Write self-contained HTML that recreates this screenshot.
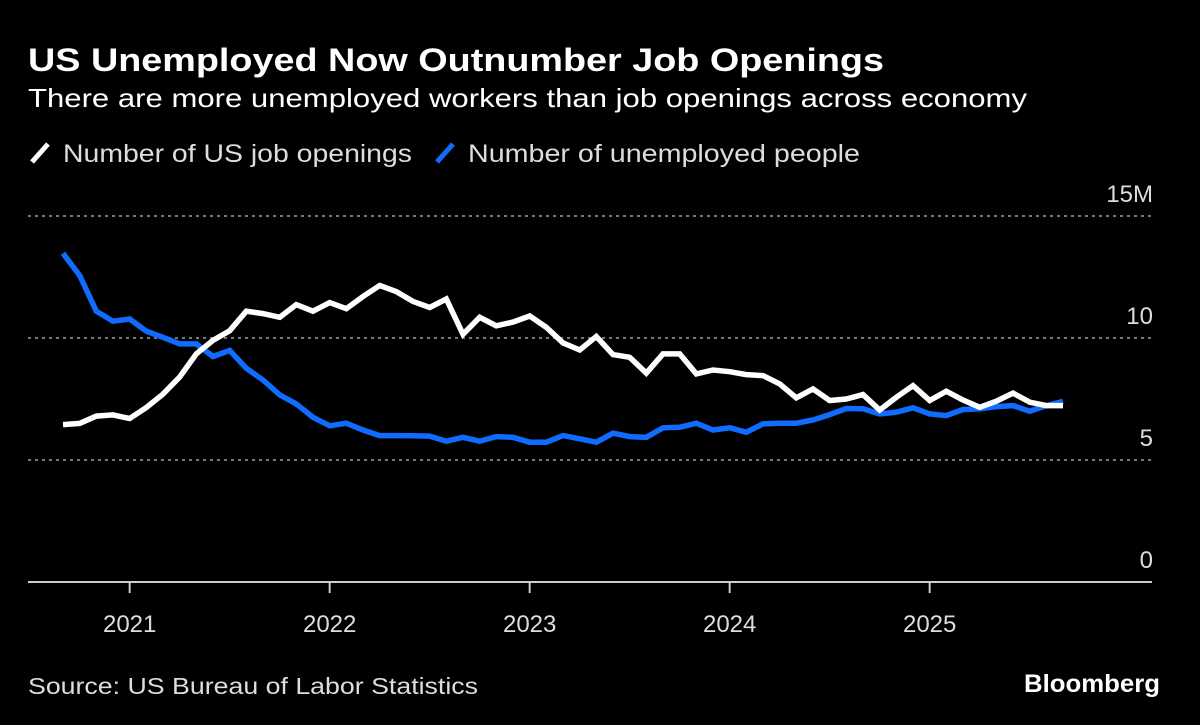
<!DOCTYPE html>
<html><head><meta charset="utf-8"><style>
html,body{margin:0;padding:0;background:#000;width:1200px;height:725px;overflow:hidden}
svg text{font-family:"Liberation Sans","DejaVu Sans",sans-serif}
</style></head><body>
<svg id="chart" width="1200" height="725" viewBox="0 0 1200 725">
<rect width="1200" height="725" fill="#000"/>
<text x="28" y="71" fill="#fff" font-size="32" font-weight="bold" textLength="856" lengthAdjust="spacingAndGlyphs">US Unemployed Now Outnumber Job Openings</text>
<text x="28" y="107" fill="#fff" font-size="26" textLength="999" lengthAdjust="spacingAndGlyphs">There are more unemployed workers than job openings across economy</text>
<g>
<line x1="32" y1="162" x2="48" y2="144" stroke="#fff" stroke-width="5"/>
<text x="63" y="162" fill="#ddd" font-size="25" textLength="349" lengthAdjust="spacingAndGlyphs">Number of US job openings</text>
<line x1="437" y1="162" x2="453" y2="144" stroke="#0f6cff" stroke-width="5"/>
<text x="468" y="162" fill="#ddd" font-size="25" textLength="392" lengthAdjust="spacingAndGlyphs">Number of unemployed people</text>
</g>
<g id="grid"></g>
<g id="xaxis"></g>
<g id="series"></g>
<text x="28" y="694" fill="#ddd" font-size="23" textLength="450" lengthAdjust="spacingAndGlyphs">Source: US Bureau of Labor Statistics</text>
<text x="1160" y="692" fill="#fff" font-size="25" font-weight="bold" text-anchor="end" textLength="136" lengthAdjust="spacingAndGlyphs">Bloomberg</text>
</svg>
<script>
const startYear = 2020, startMonth = 8; // Sep 2020
const jobOpenings = [6.45,6.5,6.8,6.85,6.7,7.15,7.7,8.4,9.35,9.9,10.3,11.1,11.0,10.85,11.37,11.1,11.45,11.2,11.7,12.15,11.9,11.5,11.25,11.6,10.15,10.85,10.5,10.65,10.9,10.44,9.8,9.51,10.06,9.32,9.21,8.56,9.35,9.35,8.53,8.69,8.62,8.5,8.46,8.12,7.55,7.91,7.44,7.5,7.68,7.05,7.57,8.05,7.44,7.82,7.46,7.16,7.41,7.74,7.37,7.23,7.23];
const unemployed = [13.47,12.56,11.1,10.69,10.78,10.28,10.03,9.76,9.76,9.24,9.49,8.76,8.28,7.67,7.3,6.75,6.4,6.51,6.23,6.0,6.0,5.99,5.98,5.77,5.93,5.77,5.96,5.93,5.73,5.73,6.0,5.87,5.73,6.1,5.96,5.93,6.32,6.34,6.51,6.23,6.32,6.14,6.48,6.51,6.51,6.64,6.86,7.11,7.1,6.89,6.96,7.14,6.89,6.82,7.07,7.1,7.19,7.23,7.0,7.23,7.4];
const yTicks = [0,5,10,15];
const yTickLabels = ["0","5","10","15M"];
const xTickYears = [2021,2022,2023,2024,2025];

const NS = "http://www.w3.org/2000/svg";
function x(i){ return 63 + i*(200/12); }
function y(v){ return 582 - v*24.4; }
function monthIndex(year){ return (year - startYear)*12 - startMonth; }
function mk(tag, attrs, parent){ const e=document.createElementNS(NS,tag); for(const k in attrs) e.setAttribute(k,attrs[k]); parent.appendChild(e); return e; }

const grid=document.getElementById('grid');
yTicks.forEach((t,k)=>{
  if(t>0){
    const l=mk('line',{x1:28,x2:1153,y1:y(t),y2:y(t),stroke:'#777','stroke-width':2,'stroke-dasharray':'3 4'},grid);
    
    
  }
  const tx=mk('text',{x:1153,y:y(t)-14,fill:'#ddd','font-size':24,'text-anchor':'end'},grid);
  tx.textContent=yTickLabels[k];
  
  
});
const xa=document.getElementById('xaxis');
const base=mk('line',{x1:28,x2:1152,y1:y(0),y2:y(0),stroke:'#ccc','stroke-width':2},xa);


xTickYears.forEach(yr=>{
  const xi=x(monthIndex(yr));
  const t=mk('line',{x1:xi,x2:xi,y1:y(0),y2:y(0)+11,stroke:'#ccc','stroke-width':2},xa);
  
  
  const lb=mk('text',{x:xi,y:632,fill:'#ddd','font-size':24,'text-anchor':'middle'},xa);
  lb.textContent=String(yr);
  
  
});
const sg=document.getElementById('series');
function pts(arr){ return arr.map((v,i)=>x(i).toFixed(1)+','+y(v).toFixed(1)).join(' '); }
const pu=mk('polyline',{points:pts(unemployed),fill:'none',stroke:'#0f6cff','stroke-width':5.5,'stroke-linejoin':'miter','stroke-linecap':'butt'},sg);


const pj=mk('polyline',{points:pts(jobOpenings),fill:'none',stroke:'#fff','stroke-width':5.5,'stroke-linejoin':'miter','stroke-linecap':'butt'},sg);


</script>
</body></html>
